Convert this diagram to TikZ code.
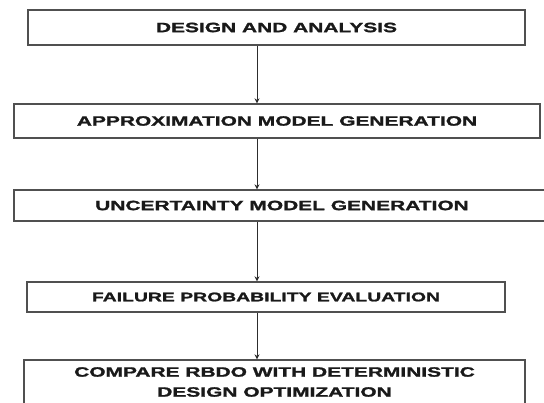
\documentclass[tikz,border=0pt]{standalone}
\usepackage{fontspec}
\setmainfont{Liberation Sans}
\newfontfamily\flowfont{Liberation Sans}[FakeStretch=1.55,BoldFeatures={FakeBold=1.6}]
\usetikzlibrary{arrows.meta,positioning}
\definecolor{boxline}{RGB}{80,80,80}
\definecolor{linkgray}{RGB}{45,45,45}

\begin{document}
\begin{tikzpicture}[>={Stealth[length=5pt,width=5pt]},x=1pt,y=-1pt]
\tikzstyle{stepnode}=[draw=boxline,line width=1.3pt,align=center,inner sep=0pt,text=black!90,font=\flowfont\bfseries\fontsize{13.5}{20}\selectfont]
\tikzstyle{link}=[->,linkgray,line width=1pt]

\clip (0,0) rectangle (544,402);
\fill[white] (0,0) rectangle (544,402);

\node[stepnode,minimum width=497pt,minimum height=35pt] (design) at (276.5,27.5) {DESIGN AND ANALYSIS};
\node[stepnode,minimum width=526pt,minimum height=34pt] (approx) at (277,121) {APPROXIMATION MODEL GENERATION};
\node[stepnode,minimum width=536pt,minimum height=31pt] (uncert) at (282,205.5) {UNCERTAINTY MODEL GENERATION};
\node[stepnode,minimum width=478pt,minimum height=30pt,font=\flowfont\bfseries\fontsize{12.5}{20}\selectfont] (failprob) at (266,297) {FAILURE PROBABILITY EVALUATION};
\node[stepnode,minimum width=501pt,minimum height=44pt] (compare) at (274.5,382) {COMPARE RBDO WITH DETERMINISTIC\\DESIGN OPTIMIZATION};

% arrows all run down one vertical line
\coordinate (spine) at (257,0);
\draw[link] (design.south -| spine)--(approx.north -| spine);
\draw[link] (approx.south -| spine)--(uncert.north -| spine);
\draw[link] (uncert.south -| spine)--(failprob.north -| spine);
\draw[link] (failprob.south -| spine)--(compare.north -| spine);
\end{tikzpicture}
\end{document}
